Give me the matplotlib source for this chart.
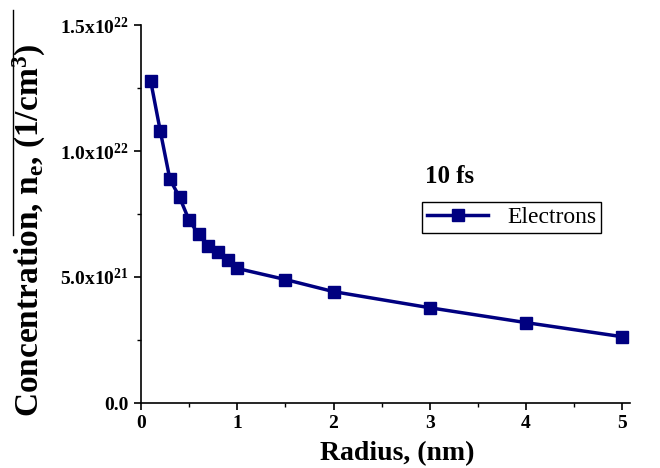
import matplotlib
matplotlib.use("Agg")
import matplotlib.pyplot as plt
from matplotlib.lines import Line2D
from matplotlib.ticker import FixedLocator, MultipleLocator

plt.rcParams["font.family"] = ["Liberation Serif", "DejaVu Serif"]
plt.rcParams["mathtext.fontset"] = "custom"
plt.rcParams["mathtext.rm"] = "Liberation Serif:bold"
plt.rcParams["mathtext.it"] = "Liberation Serif:bold"
plt.rcParams["mathtext.bf"] = "Liberation Serif:bold"

# radius (nm) vs electron concentration (1/cm^3), 10 fs
radius = [0.1, 0.2, 0.3, 0.4, 0.5, 0.6, 0.7, 0.8, 0.9, 1.0, 1.5, 2.0, 3.0, 4.0, 5.0]
n_e = [1.279e22, 1.08e22, 8.88e21, 8.17e21, 7.25e21, 6.69e21, 6.25e21, 5.98e21,
       5.66e21, 5.34e21, 4.90e21, 4.42e21, 3.78e21, 3.19e21, 2.63e21]

y_ticks = [0, 5e21, 1e22, 1.5e22]
y_tick_labels = ["0.0", r"5.0x10$^{21}$", r"1.0x10$^{22}$", r"1.5x10$^{22}$"]
x_ticks = [0, 1, 2, 3, 4, 5]

navy = "#000080"

fig = plt.figure(figsize=(6.6, 4.68), dpi=100)
ax = fig.add_axes([141 / 660, 1 - 403 / 468, 489 / 660, 378 / 468])

ax.plot(radius, n_e, color=navy, lw=2.5, marker="s", markersize=8,
        markerfacecolor=navy, markeredgecolor=navy, label="Electrons")

ax.set_xlim(0, 5.08)
ax.set_ylim(0, 1.5e22)

ax.xaxis.set_major_locator(FixedLocator(x_ticks))
ax.xaxis.set_minor_locator(MultipleLocator(0.5))
ax.set_xticklabels([str(v) for v in x_ticks])
ax.yaxis.set_major_locator(FixedLocator(y_ticks))
ax.yaxis.set_minor_locator(MultipleLocator(2.5e21))
ax.set_yticklabels(y_tick_labels)

for s in ["top", "right"]:
    ax.spines[s].set_visible(False)
for s in ["left", "bottom"]:
    ax.spines[s].set_linewidth(1.2)

ax.tick_params(which="major", direction="out", length=5, width=1.2,
               labelsize=14, pad=4)
ax.tick_params(which="minor", direction="out", length=3, width=1.0)
for lbl in ax.get_xticklabels() + ax.get_yticklabels():
    lbl.set_fontweight("bold")

ax.set_xlabel("Radius, (nm)", fontsize=20, fontweight="bold")
ax.xaxis.set_label_coords(0.524, -0.1)
ax.set_ylabel(r"Concentration, n$_{\mathrm{e}}$, (1/cm$^{3}$)", fontsize=24,
              fontweight="bold")
ax.yaxis.set_label_coords(-0.19, 0.458)

ax.text(0.581, 0.60, "10 fs", transform=ax.transAxes, fontsize=18,
        fontweight="bold", va="center", ha="left")

leg = ax.legend(loc="upper left", bbox_to_anchor=(0.575, 0.532), borderaxespad=0,
                fancybox=False, edgecolor="black", fontsize=17, handlelength=2.6,
                borderpad=0.2, handletextpad=0.8, framealpha=1)
leg.get_frame().set_linewidth(1.0)

# stray rule at the left edge of the scanned figure
fig.add_artist(Line2D([12.5 / 660, 12.5 / 660], [1 - 10 / 468, 1 - 235 / 468],
                      color="black", lw=1.0))

fig.savefig("out.png", dpi=100)
